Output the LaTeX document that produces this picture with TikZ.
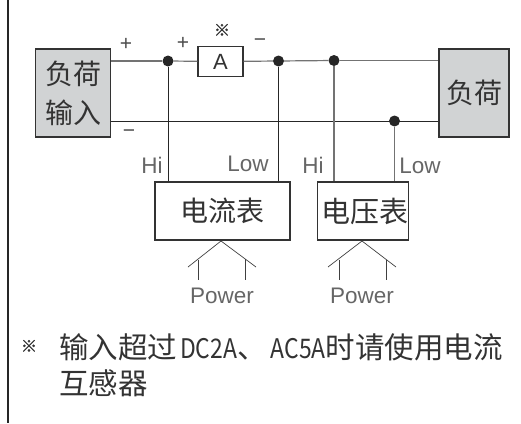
\documentclass[tikz,border=0pt]{standalone}
\usepackage{fontspec}
\setmainfont{Liberation Sans}
\newfontfamily\cjk{Noto Sans CJK SC}
\newfontfamily\narrow{Noto Sans CJK SC}[FakeStretch=0.85]
\newfontfamily\markfont{Noto Sans CJK SC}[FakeBold=1.5]
\usetikzlibrary{positioning,calc}
\definecolor{loadgray}{HTML}{D1D3D4}
\definecolor{inkgray}{HTML}{333333}
\tikzset{
    load/.style = {
        draw=inkgray,
        shape=rectangle,
        fill=loadgray,
        line width=1.2pt,
        inner sep=0pt,
        align=center,
        font=\cjk\fontsize{28}{39}\selectfont,
        text=inkgray
    },
    meter/.style = {
        draw=inkgray,
        shape=rectangle,
        line width=1.2pt,
        inner sep=0pt,
        font=\cjk\fontsize{28}{28}\selectfont,
        text=inkgray
    },
    junction/.style = {
        shape=circle,
        fill=black!85,
        minimum size=11pt,
        inner sep=0pt
    },
    tag/.style = {
        inner sep=0pt,
        font=\fontsize{22.5}{22.5}\selectfont,
        text=black!60
    },
    sign/.style = {
        inner sep=0pt,
        font=\fontsize{21}{21}\selectfont,
        text=black!70
    },
    notemark/.style = {
        inner sep=0pt,
        font=\markfont\fontsize{16}{16}\selectfont,
        text=inkgray
    },
    note/.style = {
        inner sep=0pt,
        anchor=base west,
        font=\cjk\fontsize{29.5}{29.5}\selectfont,
        text=inkgray
    },
    wire/.style = {line width=0.8pt, color=black!85},
    graywire/.style = {line width=1.2pt, color=black!55},
    fork/.style = {line width=0.7pt, color=black!75},
}
\newcommand{\halfwidth}[1]{{\narrow\fontsize{27}{27}\selectfont #1}}

\begin{document}
\begin{tikzpicture}[x=1pt,y=-1pt]
    \useasboundingbox (0,0) rectangle (521,423);

    \coordinate (bartop) at (7.5,0);
    \coordinate (barend) at (7.5,423);
    \path[draw, line width=2pt, color=black!85] (bartop) -- (barend);

    \node[load, minimum width=74.5pt, minimum height=88pt] (input) at (73,93) {负荷\\输入};
    \node[load, minimum width=70pt, minimum height=88pt] (load) at (474,93) {负荷};
    \node[meter, fill=white, minimum width=135pt, minimum height=58pt] (ameter) at (222.5,211) {\raisebox{-2pt}{电流表}};
    \node[meter, minimum width=90pt, minimum height=58pt] (vmeter) at (363,211) {\raisebox{-2pt}{\hspace{4pt}\fontsize{29}{29}\selectfont 电压表}};
    \node[meter, fill=white, minimum width=45pt, minimum height=30pt, font=\fontsize{22}{22}\selectfont] (shunt) at (220.5,61.5) {A};

    \node[junction] (hia) at (168,61) {};
    \node[junction] (lowa) at (278.5,61) {};
    \node[junction] (hiv) at (334,60.5) {};
    \node[junction] (lowv) at (394.5,121) {};

    \path[draw, graywire] (input.east |- hia) -- (hia);
    \path[draw, graywire] (hia) -- (shunt);
    \path[draw, graywire] (shunt) -- (lowa);
    \path[draw, graywire] (lowa) -- (hiv);
    \path[draw, graywire] (hiv) -- (load.west |- hiv);
    \path[draw, wire] (input.east |- lowv) -- (load.west |- lowv);
    \path[draw, wire] (hia) -- (hia |- ameter.north);
    \path[draw, wire] (lowa) -- (lowa |- ameter.north);
    \path[draw, graywire] (hiv) -- (hiv |- vmeter.north);
    \path[draw, graywire] (lowv) -- (lowv |- vmeter.north);

    % power forks
    \coordinate (apexa) at (221,241);
    \coordinate (lefta) at (188,267);
    \coordinate (righta) at (256,267);
    \coordinate (apexv) at (362,241);
    \coordinate (leftv) at (328,267);
    \coordinate (rightv) at (396,267);
    \path[draw, fork] (lefta) -- (apexa) -- (righta);
    \path[draw, fork] (leftv) -- (apexv) -- (rightv);
    \coordinate (ta) at (198,260);
    \coordinate (tb) at (245,259);
    \coordinate (tc) at (339,260);
    \coordinate (td) at (386,260);
    \node[tag] (powera) at (222,296) {Power};
    \node[tag] (powerv) at (362,296) {Power};
    \path[draw, fork] (ta) -- (ta |- 0,280);
    \path[draw, fork] (tb) -- (tb |- 0,280);
    \path[draw, fork] (tc) -- (tc |- 0,280);
    \path[draw, fork] (td) -- (td |- 0,280);

    \node[tag] (hione) at (152,165) {Hi};
    \node[tag] (lowone) at (248,164) {Low};
    \node[tag] (hitwo) at (313,165) {Hi};
    \node[tag] (lowtwo) at (420,166) {Low};
    \node[sign] (plusa) at (126,44) {+};
    \node[sign] (plusb) at (183,43) {+};
    \node[sign] (minusa) at (260,43) {−};
    \node[sign] (minusb) at (129,134) {−};
    \node[notemark] (marka) at (222,30) {※};

    \node[notemark] (markb) at (29,346) {※};
    \node[note] (linea) at (59,358) {输入超过\hspace{3pt}\halfwidth{DC2A}、\hspace{4pt}\halfwidth{AC5A}时请使用电流};
    \node[note] (lineb) at (59,394) {互感器};
\end{tikzpicture}
\end{document}
